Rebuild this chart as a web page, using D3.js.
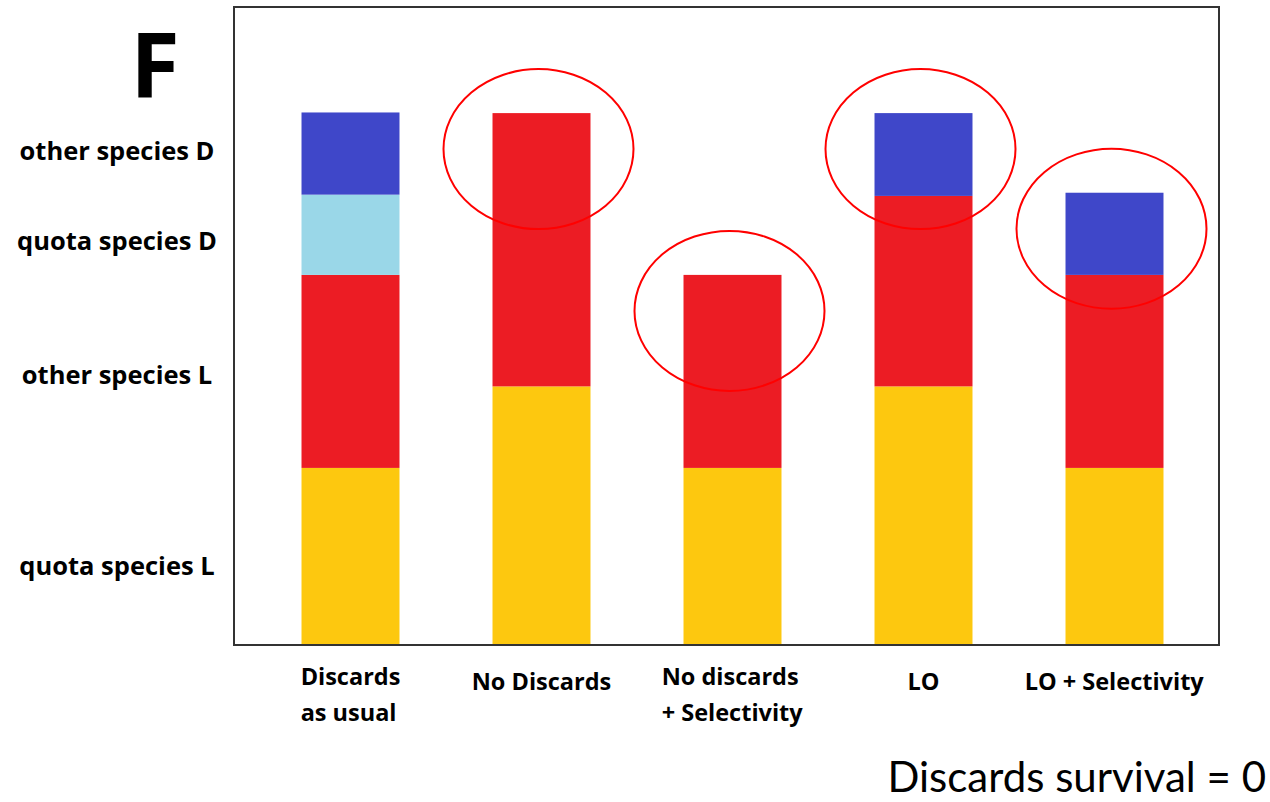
<!DOCTYPE html>
<html>
<head>
<meta charset="utf-8">
<script src="https://cdn.jsdelivr.net/npm/d3@7"></script>
<style>
  html, body { margin: 0; padding: 0; background: #fff; }
  svg { display: block; }
  text { font-family: "Open Sans", Lato, "Liberation Sans", sans-serif; fill: #000; }
  text.footnote { font-family: Lato, "Open Sans", sans-serif; }
</style>
</head>
<body>
<svg id="chart" width="1270" height="802"></svg>
<script>
// Fishing scenarios along the x axis
const scenarios = ["Discards as usual", "No Discards", "No discards + Selectivity", "LO", "LO + Selectivity"];
// Two-line labels drawn under each bar
const scenarioLabels = [["Discards", "as usual"], ["No Discards"], ["No discards", "+ Selectivity"], ["LO"], ["LO + Selectivity"]];

// Catch components, bottom to top of each stack
const components = ["quota species L", "other species L", "quota species D", "other species D"];

// Relative catch per component and scenario (arbitrary units)
const quotaSpeciesL = [27.8, 40.6, 27.8, 40.6, 27.8];
const otherSpeciesL = [30.3, 42.9, 30.3, 29.9, 30.3];
const quotaSpeciesD = [12.6, 0, 0, 0, 0];
const otherSpeciesD = [12.9, 0, 0, 13.0, 12.9];

// Scenarios highlighted with a red ellipse around the top of the bar
const highlighted = ["No Discards", "No discards + Selectivity", "LO", "LO + Selectivity"];

const colors = {
  "quota species L": "#fdc80f",
  "other species L": "#ec1c24",
  "quota species D": "#9ad7e8",
  "other species D": "#3f47c9"
};

const rows = scenarios.map((s, i) => ({
  scenario: s,
  "quota species L": quotaSpeciesL[i],
  "other species L": otherSpeciesL[i],
  "quota species D": quotaSpeciesD[i],
  "other species D": otherSpeciesD[i]
}));

const svg = d3.select("#chart");
const frame = { left: 234, right: 1219, top: 7, bottom: 645 };

const x = d3.scaleBand()
  .domain(scenarios)
  .range([255, 1210])
  .paddingInner(0.487)
  .paddingOuter(0.2435);

const y = d3.scaleLinear()
  .domain([0, 100])
  .range([frame.bottom, 8]);

const stacked = d3.stack().keys(components)(rows);

// Stacked bars
svg.append("g")
  .selectAll("g")
  .data(stacked)
  .join("g")
  .attr("fill", d => colors[d.key])
  .selectAll("rect")
  .data(d => d.filter(p => p[1] > p[0]))
  .join("rect")
  .attr("x", d => x(d.data.scenario))
  .attr("width", x.bandwidth())
  .attr("y", d => y(d[1]))
  .attr("height", d => y(d[0]) - y(d[1]));

// Plot frame
svg.append("rect")
  .attr("x", frame.left)
  .attr("y", frame.top)
  .attr("width", frame.right - frame.left)
  .attr("height", frame.bottom - frame.top)
  .attr("fill", "none")
  .attr("stroke", "#333")
  .attr("stroke-width", 2);

// Component labels, set beside the segments of the first bar
const labelNudge = { "quota species L": 9, "other species L": 3, "quota species D": 5, "other species D": -4 };
const firstBar = stacked.map(layer => ({ key: layer.key, mid: (layer[0][0] + layer[0][1]) / 2 }));
svg.append("g")
  .selectAll("text")
  .data(firstBar)
  .join("text")
  .attr("x", 117)
  .attr("y", d => y(d.mid) + labelNudge[d.key])
  .attr("text-anchor", "middle")
  .attr("dominant-baseline", "central")
  .attr("font-weight", 700)
  .attr("font-size", 25.5)
  .text(d => d.key);

// Scenario labels: lines left-aligned in a block centred under each bar
const xl = svg.append("g");
scenarios.forEach((s, i) => {
  const lines = scenarioLabels[i];
  const t = xl.append("text")
    .attr("font-weight", 700)
    .attr("font-size", 23.5);
  const y0 = lines.length > 1 ? 676 : 681;
  lines.forEach((line, j) => {
    t.append("tspan")
      .attr("x", 0)
      .attr("y", y0 + j * 36)
      .attr("dominant-baseline", "central")
      .text(line);
  });
  const w = t.node().getBBox().width;
  const cx = x(s) + x.bandwidth() / 2;
  t.selectAll("tspan").attr("x", cx - w / 2);
});

// Highlight ellipses
svg.append("g")
  .selectAll("ellipse")
  .data(rows.filter(r => highlighted.includes(r.scenario)))
  .join("ellipse")
  .attr("cx", d => x(d.scenario) + x.bandwidth() / 2 - 3)
  .attr("cy", d => y(components.reduce((a, k) => a + d[k], 0)) + 36)
  .attr("rx", 95)
  .attr("ry", 80)
  .attr("fill", "none")
  .attr("stroke", "#ff0000")
  .attr("stroke-width", 2);

// Panel letter
svg.append("text")
  .attr("x", 155)
  .attr("y", 97)
  .attr("text-anchor", "middle")
  .attr("font-weight", 700)
  .attr("font-size", 90)
  .text("F");

// Footnote
svg.append("text")
  .attr("class", "footnote")
  .attr("x", 1266)
  .attr("y", 792)
  .attr("text-anchor", "end")
  .attr("font-size", 42)
  .text("Discards survival = 0");
</script>
</body>
</html>
